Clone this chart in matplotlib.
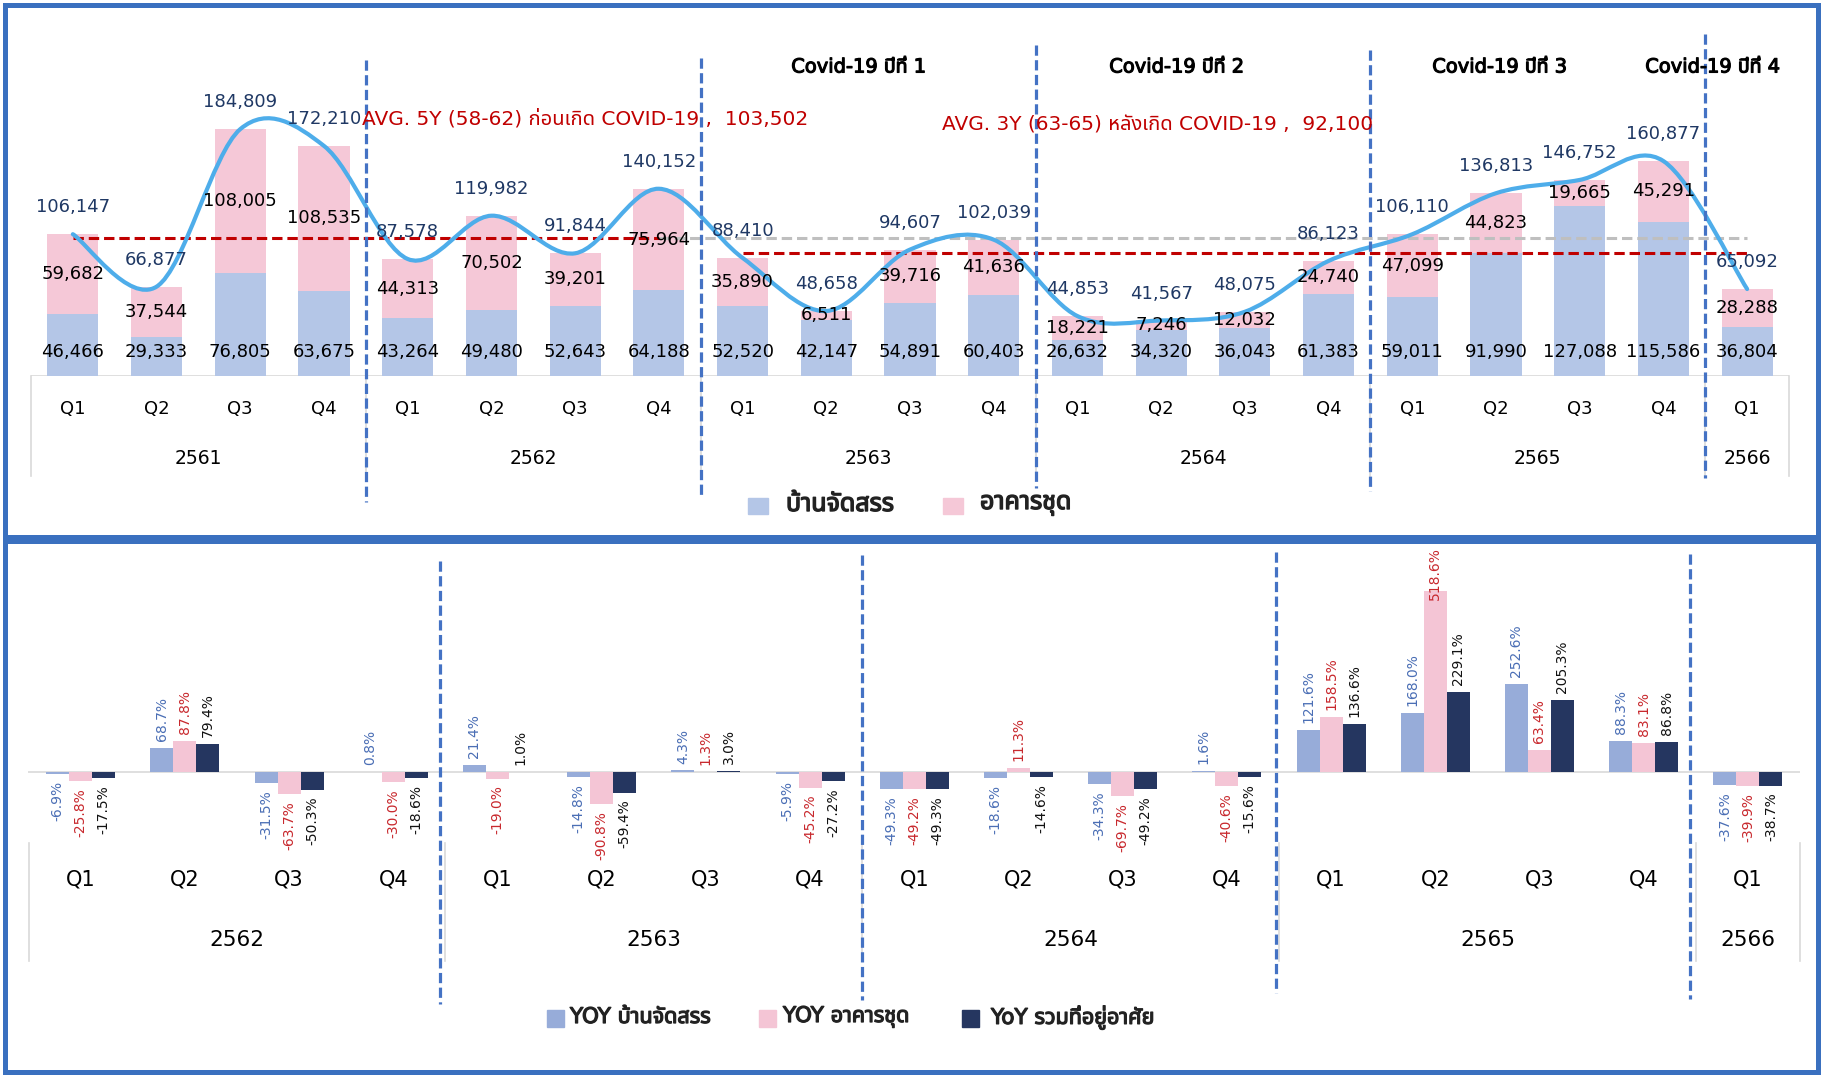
import numpy as np
import matplotlib
matplotlib.use("Agg")
import matplotlib.pyplot as plt
from matplotlib import font_manager
from matplotlib.path import Path
from matplotlib.patches import PathPatch, Rectangle
import matplotlib.transforms as mtransforms
import matplotlib.patheffects as pe

# ---------------- data ----------------
years_top = ["2561", "2562", "2563", "2564", "2565", "2566"]
quarters_top = ["Q1", "Q2", "Q3", "Q4"] * 5 + ["Q1"]
house = [46466, 29333, 76805, 63675, 43264, 49480, 52643, 64188, 52520, 42147,
         54891, 60403, 26632, 34320, 36043, 61383, 59011, 91990, 127088, 115586, 36804]
condo = [59682, 37544, 108005, 108535, 44313, 70502, 39201, 75964, 35890, 6511,
         39716, 41636, 18221, 7246, 12032, 24740, 47099, 44823, 19665, 45291, 28288]
total = [106147, 66877, 184809, 172210, 87578, 119982, 91844, 140152, 88410, 48658,
         94607, 102039, 44853, 41567, 48075, 86123, 106110, 136813, 146752, 160877, 65092]
avg_pre = 103502
avg_post = 92100
avg_pre_label = "AVG. 5Y (58-62) ก่อนเกิด COVID-19 ,  103,502"
avg_post_label = "AVG. 3Y (63-65) หลังเกิด COVID-19 ,  92,100"
covid_labels = ["Covid-19 ปีที่ 1", "Covid-19 ปีที่ 2", "Covid-19 ปีที่ 3", "Covid-19 ปีที่ 4"]
legend_top = ["บ้านจัดสรร", "อาคารชุด"]

years_bot = ["2562", "2563", "2564", "2565", "2566"]
quarters_bot = ["Q1", "Q2", "Q3", "Q4"] * 4 + ["Q1"]
yoy_house = [-6.9, 68.7, -31.5, 0.8, 21.4, -14.8, 4.3, -5.9, -49.3, -18.6, -34.3, 1.6,
             121.6, 168.0, 252.6, 88.3, -37.6]
yoy_condo = [-25.8, 87.8, -63.7, -30.0, -19.0, -90.8, 1.3, -45.2, -49.2, 11.3, -69.7, -40.6,
             158.5, 518.6, 63.4, 83.1, -39.9]
yoy_total = [-17.5, 79.4, -50.3, -18.6, 1.0, -59.4, 3.0, -27.2, -49.3, -14.6, -49.2, -15.6,
             136.6, 229.1, 205.3, 86.8, -38.7]
legend_bot = ["YOY บ้านจัดสรร", "YOY อาคารชุด", "YoY รวมที่อยู่อาศัย"]

# ---------------- fonts ----------------
LATIN = "DejaVu Sans"


def find_thai_font():
    try:
        from fontTools.ttLib import TTFont
    except Exception:
        return None
    found = []
    for fe in font_manager.fontManager.ttflist:
        try:
            tt = TTFont(fe.fname, fontNumber=0, lazy=True)
            cm = tt.getBestCmap()
            tt.close()
        except Exception:
            continue
        if cm and 0x0E01 in cm and 0x0E48 in cm:
            found.append(fe.name)
    if not found:
        return None
    pref = ["Noto Sans Thai", "Noto Sans Thai UI", "Loma", "Garuda", "Tlwg Typo", "Sawasdee",
            "Umpush", "Kinnari", "Norasi"]
    for p in pref:
        if p in found:
            return p
    return found[0]


THAI = find_thai_font()
FAM_TH = [LATIN, THAI] if THAI else [LATIN]
names = {f.name for f in font_manager.fontManager.ttflist}
NARROW = "Liberation Sans Narrow" if "Liberation Sans Narrow" in names else LATIN
FAM_NARROW = [NARROW, THAI] if THAI else [NARROW]
plt.rcParams["font.family"] = FAM_TH


def heavy(col, w):
    return [pe.withStroke(linewidth=w, foreground=col)]


# ---------------- figure ----------------
W, H = 1824, 1080
fig = plt.figure(figsize=(W / 100, H / 100), dpi=100)
fig.patch.set_facecolor("white")


def fx(px):
    return px / W


def fy(py):
    return 1 - py / H


def add_axes_px(left, top, right, bottom):
    return fig.add_axes([fx(left), fy(bottom), (right - left) / W, (bottom - top) / H])


BORDER = "#3A70BF"
GRID = "#D9D9D9"
DASHBLUE = "#4472C4"

# panel borders
for (x0, y0, x1, y1) in [(5, 5, 1818, 537), (5, 541, 1818, 1072)]:
    fig.add_artist(Rectangle((fx(x0), fy(y1)), (x1 - x0) / W, (y1 - y0) / H,
                             transform=fig.transFigure, fill=False,
                             edgecolor=BORDER, linewidth=3.6, zorder=10))

# ================= TOP CHART =================
base_px, top_px = 376, 20
scale_top = 1.336e-3  # px per unit
ax = add_axes_px(31, top_px, 1789, base_px)
n = len(total)
x = np.arange(n)
ax.set_xlim(-0.5, n - 0.5)
ax.set_ylim(0, (base_px - top_px) / scale_top)
ax.axis("off")

ax.bar(x, house, width=0.61, color="#B4C6E7", zorder=2)
ax.bar(x, condo, bottom=house, width=0.61, color="#F5C8D7", zorder=2)
ax.axhline(0, color=GRID, lw=1.2, zorder=1)

# average lines
ax.plot([0, 7], [avg_pre, avg_pre], color="#C00000", lw=2.2, dashes=(3.4, 1.6), zorder=3)
ax.plot([7, n - 1], [avg_pre, avg_pre], color="#BFBFBF", lw=2.2, dashes=(3.4, 1.6), zorder=3)
ax.plot([8, n - 1], [avg_post, avg_post], color="#C00000", lw=2.2, dashes=(3.4, 1.6), zorder=3)

# smoothed total line (Catmull-Rom as cubic Bezier)
P = np.column_stack([x.astype(float), np.array(total, float)])
Pe = np.vstack([P[0], P, P[-1]])
verts = [P[0]]
codes = [Path.MOVETO]
for i in range(n - 1):
    p0, p1, p2, p3 = Pe[i], Pe[i + 1], Pe[i + 2], Pe[i + 3]
    verts += [p1 + (p2 - p0) / 6.0, p2 - (p3 - p1) / 6.0, p2]
    codes += [Path.CURVE4] * 3
ax.add_patch(PathPatch(Path(verts, codes), fill=False, edgecolor="#4EADEA", lw=3.0,
                       capstyle="round", zorder=4))

for i in range(n):
    ax.annotate(f"{house[i]:,}", (i, 0), xytext=(0, 17.3), textcoords="offset points",
                ha="center", va="center", fontsize=13, family=LATIN, color="black", zorder=6)
    ax.annotate(f"{condo[i]:,}", (i, house[i] + condo[i] / 2), xytext=(0, 0),
                textcoords="offset points", ha="center", va="center", fontsize=13,
                family=LATIN, color="black", zorder=6)
    ax.annotate(f"{total[i]:,}", (i, total[i]), xytext=(0, 19.4), textcoords="offset points",
                ha="center", va="center", fontsize=13, family=LATIN, color="#1F3864", zorder=6)

# category axis (multi-level)
trans_t = mtransforms.blended_transform_factory(ax.transData, fig.transFigure)
for i, q in enumerate(quarters_top):
    ax.text(i, fy(409), q, transform=trans_t, ha="center", va="center", fontsize=13,
            family=LATIN, color="black")
year_sizes_top = [4, 4, 4, 4, 4, 1]
start = 0
bounds_top = [-0.5]
for yr, k in zip(years_top, year_sizes_top):
    ax.text(start + (k - 1) / 2, fy(459), yr, transform=trans_t, ha="center", va="center",
            fontsize=13.5, family=LATIN, color="black")
    start += k
    bounds_top.append(start - 0.5)
for b in bounds_top:
    ax.plot([b, b], [fy(376), fy(476)], transform=trans_t, color=GRID, lw=1.2, clip_on=False,
            zorder=1)

# blue dashed separators
for b, (y0, y1) in zip(bounds_top[1:-1], [(60, 502), (58, 498), (45, 488), (50, 491), (34, 478)]):
    ax.plot([b, b], [fy(y0), fy(y1)], transform=trans_t, color=DASHBLUE, lw=2.3,
            dashes=(3.2, 1.4), clip_on=False, zorder=7)

# annotations
fig.text(fx(362), fy(119), avg_pre_label, ha="left", va="center", fontsize=14.5,
         family=FAM_TH, color="#C00000")
fig.text(fx(942), fy(125), avg_post_label, ha="left", va="center", fontsize=14.5,
         family=FAM_TH, color="#C00000")
for lbl, cx in zip(covid_labels, [859, 1177, 1500, 1713]):
    fig.text(fx(cx), fy(67), lbl, ha="center", va="center", fontsize=14,
             family=FAM_NARROW, color="black", path_effects=heavy("black", 0.8))

# top legend
for (sx, tx, lbl, col) in [(748, 786, legend_top[0], "#B4C6E7"), (943, 980, legend_top[1], "#F5C8D7")]:
    fig.add_artist(Rectangle((fx(sx), fy(514)), 20 / W, 16 / H, transform=fig.transFigure,
                             color=col))
    fig.text(fx(tx), fy(504), lbl, ha="left", va="center", fontsize=18,
             family=FAM_TH, color="#222222", path_effects=heavy("#222222", 1.0))

# ================= BOTTOM CHART =================
zero_px = 772
scale_bot = 0.349  # px per %
ax2_top, ax2_bot = 547, 830
ax2 = add_axes_px(28.5, ax2_top, 1800, ax2_bot)
m = len(yoy_total)
x2 = np.arange(m)
ax2.set_xlim(-0.5, m - 0.5)
ax2.set_ylim(-(ax2_bot - zero_px) / scale_bot, (zero_px - ax2_top) / scale_bot)
ax2.axis("off")
ax2.axhline(0, color=GRID, lw=1.2, zorder=1)

bw = 0.2207
series = [(yoy_house, "#97ACD9", "#4A6EB5", -1), (yoy_condo, "#F4C5D5", "#C8282D", 0),
          (yoy_total, "#253660", "#111111", 1)]
pos_labels = []
for vals, col, lcol, k in series:
    ax2.bar(x2 + k * bw, vals, width=bw, color=col, zorder=2)
    for i, v in enumerate(vals):
        if v >= 0:
            t = ax2.annotate(f"{v:.1f}%", (i + k * bw, v), xytext=(0, 5), textcoords="offset points",
                             rotation=90, ha="center", va="bottom", fontsize=10, family=LATIN,
                             color=lcol, zorder=6)
            pos_labels.append(t)
        else:
            ax2.annotate(f"{v:.1f}%", (i + k * bw, v), xytext=(0, -5), textcoords="offset points",
                         rotation=90, ha="center", va="top", fontsize=10, family=LATIN,
                         color=lcol, zorder=6)

trans_b = mtransforms.blended_transform_factory(ax2.transData, fig.transFigure)
for i, q in enumerate(quarters_bot):
    ax2.text(i, fy(880), q, transform=trans_b, ha="center", va="center", fontsize=15,
             family=LATIN, color="black")
year_sizes_bot = [4, 4, 4, 4, 1]
start = 0
bounds_bot = [-0.5]
for yr, k in zip(years_bot, year_sizes_bot):
    ax2.text(start + (k - 1) / 2, fy(940), yr, transform=trans_b, ha="center", va="center",
             fontsize=15.5, family=LATIN, color="black")
    start += k
    bounds_bot.append(start - 0.5)
for b in bounds_bot:
    ax2.plot([b, b], [fy(843), fy(961)], transform=trans_b, color=GRID, lw=1.2, clip_on=False,
             zorder=1)

for b, (y0, y1) in zip([3.45, 7.5, 11.47, 15.44], [(561, 1004), (555, 1000), (552, 993), (554, 999)]):
    ax2.plot([b, b], [fy(y0), fy(y1)], transform=trans_b, color=DASHBLUE, lw=2.3,
             dashes=(3.2, 1.4), clip_on=False, zorder=7)

# bottom legend
for (sx, tx, lbl, col) in [(547, 570, legend_bot[0], "#97ACD9"), (759, 783, legend_bot[1], "#F4C5D5"),
                           (962, 991, legend_bot[2], "#253660")]:
    fig.add_artist(Rectangle((fx(sx), fy(1027)), 17 / W, 17 / H, transform=fig.transFigure,
                             color=col))
    fig.text(fx(tx), fy(1017), lbl, ha="left", va="center", fontsize=15.5,
             family=FAM_TH, color="#222222", path_effects=heavy("#222222", 0.9))

# keep positive labels inside the plot area (like Excel)
fig.canvas.draw()
r = fig.canvas.get_renderer()
top_lim = ax2.get_window_extent(r).y1
for t in pos_labels:
    bb = t.get_window_extent(r)
    if bb.y1 > top_lim:
        ox, oy = t.xyann
        t.xyann = (ox, oy - (bb.y1 - top_lim) * 72 / fig.dpi)

fig.savefig("out.png", dpi=100, facecolor="white")
